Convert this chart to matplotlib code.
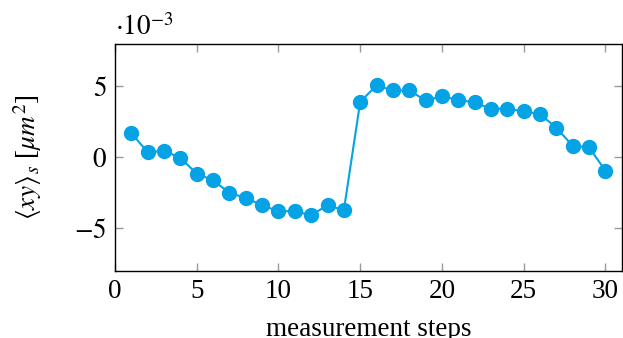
import numpy as np
import matplotlib
matplotlib.use('Agg')
import matplotlib.pyplot as plt

plt.rcParams['font.family'] = 'Liberation Serif'
plt.rcParams['mathtext.fontset'] = 'stix'

# measurement step and <xy>_s in units of 1e-3 um^2
steps = list(range(1, 31))
xy_s = [1.72, 0.35, 0.47, -0.05, -1.15, -1.62, -2.51, -2.86, -3.38, -3.80,
        -3.80, -4.08, -3.38, -3.73, 3.92, 5.07, 4.72, 4.72, 4.01, 4.30,
        4.06, 3.87, 3.43, 3.43, 3.24, 3.06, 2.07, 0.82, 0.70, -0.94]
xticks = [0, 5, 10, 15, 20, 25, 30]
yticks = [-5, 0, 5]

fs = 19.5

fig = plt.figure(figsize=(6.23, 3.38), dpi=100)
ax = fig.add_axes([0.1846, 0.199, 0.8134, 0.671])

ax.plot(steps, xy_s, color='#05a2e6', lw=1.5, marker='o', ms=10, zorder=3)

ax.set_xlim(0, 31)
ax.set_ylim(-8, 8)
ax.set_xticks(xticks)
ax.set_yticks(yticks)
ax.tick_params(direction='in', top=True, right=True, color='#999999',
               length=6, width=1, labelsize=fs, pad=6)
for s in ax.spines.values():
    s.set_linewidth(1.0)
ax.set_yticklabels(['$-5$', '$0$', '$5$'])

ax.set_xlabel('measurement steps', fontsize=fs, labelpad=9)
ax.set_ylabel(r'$\langle xy\rangle_s$ [$\mu m^2$]', fontsize=fs, labelpad=22)
fig.text(0.185, 0.897, r'$\cdot 10^{-3}$', fontsize=fs, ha='left', va='baseline')

fig.savefig('out.png', dpi=100)
